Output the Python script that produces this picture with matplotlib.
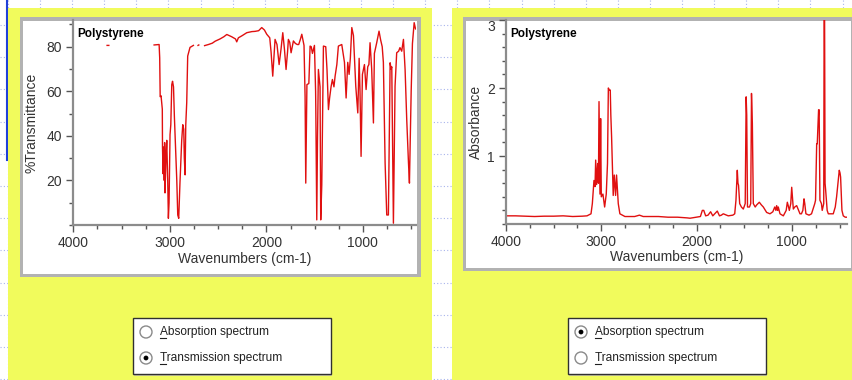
import matplotlib
matplotlib.use('Agg')
import matplotlib.pyplot as plt
from matplotlib.patches import Rectangle, Circle
from matplotlib.ticker import MultipleLocator
import numpy as np

plt.rcParams['font.family'] = ['Liberation Sans', 'DejaVu Sans']

nan = np.nan

# transmission spectrum (wavenumber cm-1, %T)
trans_wn = [3650, 3632, nan,
            3163, 3111, 3105, 3100, 3091, 3078, 3076, 3070, 3064, 3058, 3054, 3050,
            3040, 3032, 3022, 3015, 3008, 2998, 2990, 2980, 2972, 2962, 2953, 2939,
            2928, 2918, 2908, 2895, 2877, 2866, 2856, 2850, 2842, 2835, 2825, 2815,
            2791, 2756, nan, 2708, 2700, nan,
            2640, 2600, 2560, 2530, 2480, 2440, 2410, 2360, 2320, 2307, 2290, 2250,
            2203, 2150, 2117, 2080, 2048, 2020, 1996, 1965, 1951, 1934, 1920, 1910,
            1890, 1868, 1848, 1830, 1813, 1796, 1780, 1772, 1758, 1744, 1720, 1700,
            1680, 1665, 1650, 1633, 1610, 1599, 1592, 1586, 1580, 1560, 1547, 1535,
            1523, 1502, 1490, 1488, 1478, 1470, 1461, 1444, 1437, 1426, 1409, 1385,
            1372, 1357, 1345, 1330, 1316, 1300, 1288, 1270, 1254, 1219, 1191, 1174,
            1157, 1143, 1130, 1115, 1098, 1074, 1053, 1039, 1030, 1019, 1005, 984,
            967, 950, 938, 926, 909, 891, 881, 857, 833, 816, 800, 788, 770, 753,
            736, 718, 708, 701, 684, 667, 650, 630, 616, 598, 580, 563, 546, 528,
            518, 500, 487, 469, 455, 443]
trans_T = [80.6, 80.6, nan,
           80.8, 81, 75, 57.6, 58, 52, 35, 23, 35, 20, 37, 14.4,
           30, 38, 20, 3, 10, 40.5, 45, 63, 64.5, 62, 48.8, 32.4,
           20, 4.5, 3, 19, 38, 45, 43, 30, 22.5, 45, 55, 75.8,
           79.7, 80.6, nan, 80.6, 80.8, nan,
           80.5, 81, 81.6, 82.5, 83.5, 84.5, 85.5, 84.5, 83.5, 82.2, 84, 85,
           86.3, 86.8, 86.9, 87.2, 88.6, 87.5, 85.6, 84, 77.5, 66.8, 76, 83.3,
           81, 72, 79, 86.3, 79, 69.8, 78, 83.3, 82, 77.3, 82.6, 81.5,
           81, 81, 83, 85.6, 80.6, 57.8, 18.8, 40, 63, 63.5, 80.3, 80,
           77, 80.6, 60, 52.7, 2.3, 40, 69.8, 62, 2.3, 18, 80.3, 80,
           69.8, 51.8, 57, 62, 65.3, 62, 66.8, 72, 80.3, 81, 73, 57,
           73, 67.6, 75, 88.6, 85, 62.3, 50.3, 74.8, 60, 30.8, 67.6, 72,
           60.8, 71, 72, 81.8, 70, 45.8, 77, 81.8, 87, 83, 80, 73, 27.8, 4.5,
           4.5, 72.8, 70, 71, 0.8, 62.3, 77.3, 78, 79.6, 78, 83.3, 69.8, 47.3, 28,
           18.8, 60, 81.4, 90.8, 88, 87.8]

# absorption spectrum (wavenumber cm-1, absorbance)
abs_wn = [4000, 3900, 3800, 3700, 3600, 3500, 3400, 3300, 3200, 3150, 3108, 3094,
          3077, 3066, 3059, 3049, 3038, 3030, 3024, 3018, 3014, 3007, 3000, 2983,
          2965, 2948, 2935, 2926, 2916, 2906, 2900, 2892, 2875, 2864, 2850, 2840,
          2822, 2805, 2752, 2650, 2600, 2560, 2400, 2300, 2200, 2100, 2069, 2000,
          1960, 1940, 1925, 1905, 1880, 1853, 1830, 1783, 1760, 1740, 1720, 1668,
          1620, 1600, 1587, 1573, 1566, 1560, 1548, 1530, 1510, 1490, 1480, 1474,
          1466, 1445, 1432, 1424, 1415, 1405, 1385, 1370, 1342, 1320, 1300, 1265,
          1230, 1200, 1180, 1168, 1160, 1150, 1143, 1125, 1090, 1060, 1048, 1035,
          1027, 1012, 1002, 995, 985, 970, 950, 930, 915, 900, 885, 873, 865, 853,
          820, 794, 760, 752, 740, 734, 720, 714, 706, 690, 682, 666, 662, 657,
          652, 646, 630, 618, 566, 545, 531, 510, 503, 495, 489, 475, 461, 440, 425]
abs_A = [0.12, 0.12, 0.115, 0.11, 0.115, 0.115, 0.12, 0.11, 0.115, 0.12, 0.15, 0.3,
         0.64, 0.55, 0.94, 0.58, 0.89, 0.6, 1.80, 0.9, 0.44, 1.55, 0.4, 0.44,
         0.25, 0.44, 0.89, 2.0, 1.97, 1.97, 1.6, 1.28, 0.42, 0.72, 0.42, 0.72,
         0.3, 0.15, 0.11, 0.11, 0.13, 0.11, 0.11, 0.1, 0.1, 0.09, 0.085, 0.1,
         0.11, 0.2, 0.2, 0.12, 0.13, 0.18, 0.12, 0.19, 0.12, 0.13, 0.15, 0.12,
         0.13, 0.15, 0.35, 0.79, 0.6, 0.57, 0.3, 0.25, 0.22, 0.3, 1.87, 1.6,
         0.25, 0.25, 0.3, 1.92, 1.48, 0.3, 0.25, 0.28, 0.32, 0.28, 0.25, 0.17,
         0.15, 0.18, 0.25, 0.2, 0.27, 0.2, 0.25, 0.15, 0.12, 0.2, 0.32, 0.25,
         0.2, 0.3, 0.54, 0.4, 0.22, 0.25, 0.27, 0.2, 0.15, 0.15, 0.2, 0.37, 0.3, 0.15,
         0.13, 0.15, 0.3, 0.35, 1.18, 1.18, 1.68, 1.68, 0.35, 0.3, 0.2, 0.3, 3.0, 3.0,
         0.6, 0.5, 0.2, 0.15, 0.15, 0.25, 0.4, 0.7, 0.79, 0.75, 0.69, 0.2, 0.12, 0.1, 0.1]

x_ticks = [4000, 3000, 2000, 1000]
trans_ticks = [20, 40, 60, 80]
abs_ticks = [1, 2, 3]
radio_labels = ['Absorption spectrum', 'Transmission spectrum']

W, H = 853, 380
fig = plt.figure(figsize=(W / 100, H / 100), dpi=100)

# page background drawn in pixel coordinates
bg = fig.add_axes([0, 0, 1, 1])
bg.set_xlim(0, W)
bg.set_ylim(H, 0)
bg.axis('off')
grid_c = '#a9b4ec'
for gx in np.arange(8, W, 32.1):
    bg.plot([gx, gx], [0, H], color=grid_c, lw=0.8, ls=(0, (1, 2)), zorder=0)
for gy in np.arange(25, H, 32.2):
    bg.plot([0, W], [gy, gy], color=grid_c, lw=0.8, ls=(0, (1, 2)), zorder=0)
bg.plot([7, 7], [0, 160], color='#2040d8', lw=1.5, zorder=0.5)

yellow = '#f1fb5c'
bg.add_patch(Rectangle((8, 8), 424, 380, fc=yellow, ec='none', zorder=1))
bg.add_patch(Rectangle((452, 8), 401, 380, fc=yellow, ec='none', zorder=1))
for fx, fy, fw, fh in [(20, 17, 401, 260), (463, 17, 392, 254)]:
    bg.add_patch(Rectangle((fx, fy), fw, fh, fc='#b2b2b2', ec='none', zorder=1.2))
    bg.add_patch(Rectangle((fx + 3.5, fy + 3.5), fw - 7, fh - 7, fc='white', ec='none',
                           zorder=1.4))


def radio_box(x0, selected):
    bg.add_patch(Rectangle((x0 + 1.5, 319.5), 198, 56, fc='#c8c8a0', ec='none', zorder=2))
    bg.add_patch(Rectangle((x0, 318), 198, 56, fc='white', ec='#303030', lw=1, zorder=2.2))
    for i, lab in enumerate(radio_labels):
        cy = 332 + 26 * i
        bg.add_patch(Circle((x0 + 13, cy), 6, fc='white', ec='#8a8a8a', lw=1, zorder=3))
        if i == selected:
            bg.add_patch(Circle((x0 + 13, cy), 2.4, fc='black', ec='none', zorder=3.2))
        bg.text(x0 + 27, cy, lab, fontsize=8.6, color='#202020', va='center', ha='left',
                zorder=3)
        bg.plot([x0 + 27, x0 + 33], [cy + 5.5, cy + 5.5], color='#202020', lw=0.8, zorder=3)


radio_box(133, 1)
radio_box(568, 0)

red = '#e01010'
label_c = '#333333'


def style_axes(ax, xmax):
    ax.set_facecolor('none')
    ax.set_xlim(4000, xmax)
    ax.set_xticks(x_ticks)
    ax.xaxis.set_minor_locator(MultipleLocator(250))
    for s in ['top', 'right']:
        ax.spines[s].set_visible(False)
    for s in ['left', 'bottom']:
        ax.spines[s].set_color('#8c8c8c')
        ax.spines[s].set_linewidth(1.6)
    ax.tick_params(which='major', length=5, width=1, color='#555555',
                   labelsize=10, labelcolor=label_c, pad=3)
    ax.tick_params(which='minor', length=3, width=1, color='#555555')
    ax.set_xlabel('Wavenumbers (cm-1)', fontsize=10, color=label_c, labelpad=1)
    ax.text(0.012, 0.96, 'Polystyrene', transform=ax.transAxes, fontsize=8.5,
            fontweight='bold', va='top', ha='left', color='black')


ax1 = fig.add_axes([73.3 / W, 1 - 225 / H, 342.7 / W, 205 / H])
ax1.plot(trans_wn, trans_T, color=red, lw=1)
style_axes(ax1, 450)
ax1.set_ylim(0, 92)
ax1.set_yticks(trans_ticks)
ax1.yaxis.set_minor_locator(MultipleLocator(10))
ax1.set_ylabel('%Transmittance', fontsize=10, color=label_c, labelpad=6)

ax2 = fig.add_axes([506 / W, 1 - 224 / H, 340.7 / W, 204 / H])
ax2.plot(abs_wn, abs_A, color=red, lw=1)
style_axes(ax2, 425)
ax2.set_ylim(0, 3.0)
ax2.set_yticks(abs_ticks)
ax2.yaxis.set_minor_locator(MultipleLocator(0.2))
ax2.set_ylabel('Absorbance', fontsize=10, color=label_c, labelpad=3)
ax2.get_yticklabels()[-1].set_va('top')

fig.savefig('out.png', dpi=100)
